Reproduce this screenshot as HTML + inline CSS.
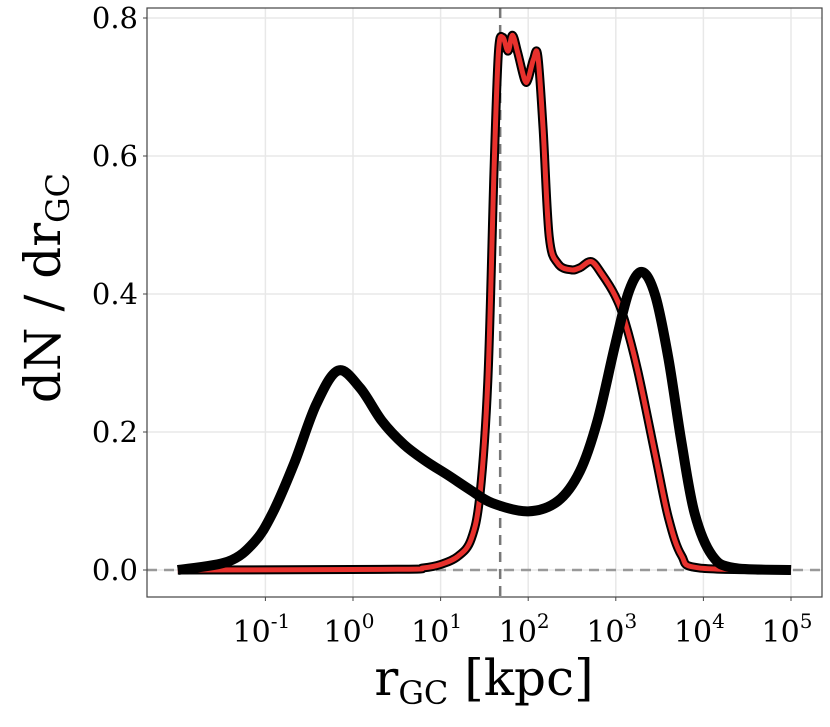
<!DOCTYPE html>
<html><head><meta charset="utf-8"><style>
body{margin:0;background:#fff;}
svg{display:block;font-family:"DejaVu Serif","Liberation Serif",serif;}
</style></head><body>
<svg id="chart" width="830" height="727">
<rect x="0" y="0" width="830" height="727" fill="#fff"/>
<g id="grid"></g>
<g id="marks"></g>
<rect x="147" y="8" width="675" height="589" fill="none" stroke="#444" stroke-width="1.2"/>
<g id="ticks"></g>
<text x="484" y="695" text-anchor="middle" font-size="50">r<tspan font-size="32" dy="9">GC</tspan><tspan dy="-9"> [kpc]</tspan></text>
<text transform="translate(60,288) rotate(-90)" text-anchor="middle" font-size="50">dN / dr<tspan font-size="32" dy="9">GC</tspan></text>
</svg>
<script>
const xTickExps=[-1,0,1,2,3,4,5];
const yTicks=[0,0.2,0.4,0.6,0.8];
const yTickLabels=["0.0","0.2","0.4","0.6","0.8"];
const vLineLog=1.68;
const blackLogR=[-2,-1.43,-1.13,-0.92,-0.67,-0.42,-0.17,0.08,0.33,0.58,0.83,1.09,1.34,1.59,2.0,2.34,2.59,2.79,2.99,3.15,3.3,3.45,3.6,3.75,3.9,4.1,4.35,5];
const blackVals=[0,0.012,0.04,0.082,0.155,0.24,0.289,0.264,0.216,0.182,0.158,0.137,0.116,0.097,0.085,0.10,0.143,0.216,0.325,0.404,0.432,0.398,0.307,0.185,0.082,0.021,0.003,0];
const redLogR=[-2,0.5,0.8,1.0,1.2,1.35,1.45,1.54,1.61,1.66,1.71,1.77,1.82,1.88,1.96,2.0,2.06,2.11,2.17,2.24,2.34,2.49,2.59,2.72,2.84,2.99,3.1,3.25,3.45,3.6,3.75,3.95,5];
const redVals=[0,0.001,0.003,0.008,0.02,0.045,0.11,0.277,0.58,0.75,0.772,0.752,0.775,0.75,0.71,0.712,0.74,0.745,0.64,0.483,0.444,0.435,0.438,0.447,0.429,0.398,0.362,0.289,0.167,0.076,0.021,0.003,0];

const X=l=>353+87.6*l;
const Y=v=>570-v*(552/0.8);
const NS="http://www.w3.org/2000/svg";
function mk(tag,attrs,parent){const e=document.createElementNS(NS,tag);for(const k in attrs)e.setAttribute(k,attrs[k]);parent.appendChild(e);return e;}
const grid=document.getElementById('grid'),marks=document.getElementById('marks'),ticks=document.getElementById('ticks');
xTickExps.forEach(e=>{
  const g=mk('line',{x1:X(e),x2:X(e),y1:8,y2:597,stroke:'#e8e8e8','stroke-width':1.5},grid);
  
  
  const t=mk('line',{x1:X(e),x2:X(e),y1:597,y2:601,stroke:'#444'},ticks);
  
  
  const tx=mk('text',{x:X(e)-4,y:642,'text-anchor':'middle','font-size':30},ticks);
  
  
  tx.innerHTML='10<tspan font-size="20" dy="-14">'+e+'</tspan>';
});
yTicks.forEach((v,i)=>{
  const g=mk('line',{x1:147,x2:822,y1:Y(v),y2:Y(v),stroke:'#e8e8e8','stroke-width':1.5},grid);
  
  
  const t=mk('line',{x1:143,x2:147,y1:Y(v),y2:Y(v),stroke:'#444'},ticks);
  
  
  const tx=mk('text',{x:138,y:Y(v)+10,'text-anchor':'end','font-size':29},ticks);
  
  
  tx.textContent=yTickLabels[i];
});
const h=mk('line',{x1:147,x2:822,y1:Y(0),y2:Y(0),stroke:'#999','stroke-width':2.5,'stroke-dasharray':'10,7'},grid);


const vl=mk('line',{x1:X(vLineLog),x2:X(vLineLog),y1:8,y2:597,stroke:'#777','stroke-width':2.5,'stroke-dasharray':'10,7'},grid);


function smooth(xs,ys){
  const p=xs.map((l,i)=>[X(l),Y(ys[i])]);
  let d='M'+p[0][0]+','+p[0][1];
  for(let i=0;i<p.length-1;i++){
    const p0=p[i-1]||p[i],p1=p[i],p2=p[i+1],p3=p[i+2]||p2;
    const c1=[p1[0]+(p2[0]-p0[0])/6,p1[1]+(p2[1]-p0[1])/6];
    const c2=[p2[0]-(p3[0]-p1[0])/6,p2[1]-(p3[1]-p1[1])/6];
    d+='C'+c1+' '+c2+' '+p2;
  }
  return d;
}
const rd=smooth(redLogR,redVals);
const ro=mk('path',{d:rd,fill:'none',stroke:'#000','stroke-width':9,'stroke-linejoin':'round'},marks);


const rl=mk('path',{d:rd,fill:'none',stroke:'#e8312d','stroke-width':5,'stroke-linejoin':'round'},marks);


const bl=mk('path',{d:smooth(blackLogR,blackVals),fill:'none',stroke:'#000','stroke-width':10,'stroke-linejoin':'round'},marks);


</script>
</body></html>
